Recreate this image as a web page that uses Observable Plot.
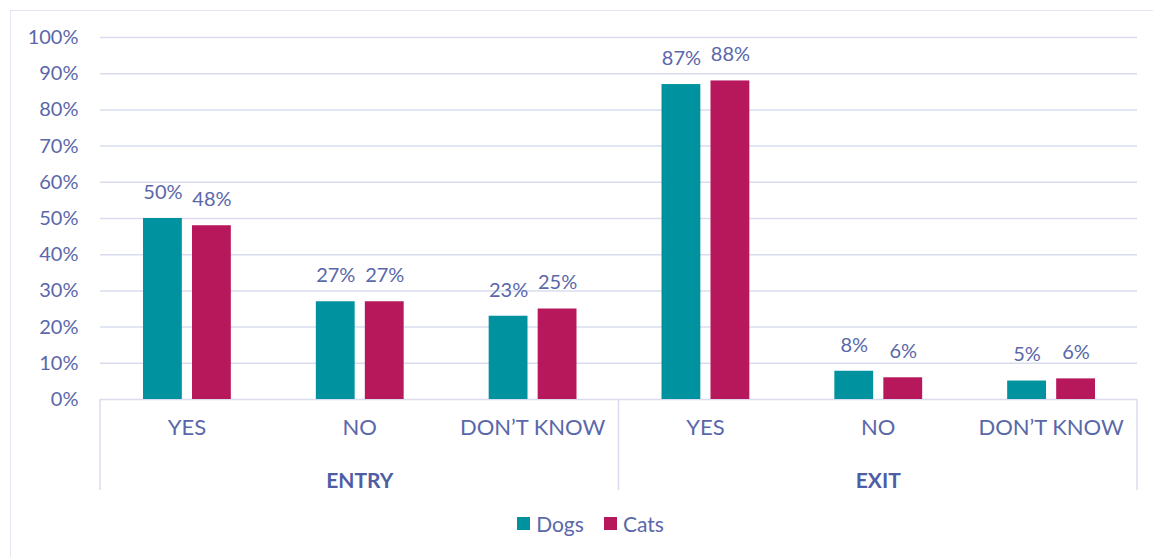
<!DOCTYPE html>
<html>
<head>
<meta charset="utf-8">
<script src="https://cdn.jsdelivr.net/npm/d3@7"></script>
<script src="https://cdn.jsdelivr.net/npm/@observablehq/plot@0.6"></script>
<style>
  html, body { margin: 0; padding: 0; background: #fff; overflow: hidden; }
  #wrap { position: relative; width: 1153px; height: 557px; }
  #frame { position: absolute; left: 10px; top: 10px; width: 1200px; height: 600px;
           border: 1.5px solid #e4e5f1; box-sizing: border-box; pointer-events: none; }
  #chart { position: absolute; left: 0; top: 0; }
  #legend { position: absolute; left: 0; top: 511px; width: 1153px; padding-left: 28px; box-sizing: border-box;
            display: flex; justify-content: center; align-items: center; gap: 20px;
            font-family: Lato, sans-serif; font-size: 21px; color: #5a67aa; }
  .item { display: flex; align-items: center; gap: 6px; }
  .sw { width: 13px; height: 13px; display: inline-block; }
</style>
</head>
<body>
<div id="wrap">
  <div id="frame"></div>
  <div id="chart"></div>
  <div id="legend"></div>
</div>
<script>
// ---- data ----
const groups = ["ENTRY", "ENTRY", "ENTRY", "EXIT", "EXIT", "EXIT"];
const answers = ["YES", "NO", "DON’T KNOW", "YES", "NO", "DON’T KNOW"];
const dogs = [50, 27, 23, 87, 7.8, 5.1];
const cats = [48, 27, 25, 88, 6.0, 5.7];
const seriesNames = ["Dogs", "Cats"];
const seriesColors = ["#00929f", "#b7185b"];
const yTicks = [0, 10, 20, 30, 40, 50, 60, 70, 80, 90, 100];
const groupNames = ["ENTRY", "EXIT"];

const rows = answers.map((a, i) => ({ key: groups[i] + "|" + a, group: groups[i], answer: a, dogs: dogs[i], cats: cats[i] }));
const keys = rows.map(d => d.key);
const groupRows = groupNames.map(g => ({ group: g, key: g + "|NO" }));
const pct = v => Math.round(v) + "%";
const textColor = "#5a67aa";

const chart = Plot.plot({
  width: 1153,
  height: 505,
  marginLeft: 100,
  marginRight: 16,
  marginTop: 37,
  marginBottom: 106,
  style: { fontFamily: "Lato, sans-serif", fontSize: "20px", color: textColor, background: "transparent", overflow: "visible" },
  x: { domain: keys, padding: 0, round: false, label: null },
  y: { domain: [0, 100], label: null },
  marks: [
    Plot.gridY(yTicks, { stroke: "#d9dcee", strokeOpacity: 1, strokeWidth: 1.5 }),
    Plot.barY(rows, { x: "key", y: "dogs", fill: seriesColors[0], insetLeft: 43, insetRight: 91 }),
    Plot.barY(rows, { x: "key", y: "cats", fill: seriesColors[1], insetLeft: 92, insetRight: 42 }),
    Plot.text(rows, { x: "key", y: "dogs", text: d => pct(d.dogs), dx: -24, dy: -26, fill: textColor, fontSize: 20 }),
    Plot.text(rows, { x: "key", y: "cats", text: d => pct(d.cats), dx: 25, dy: -26, fill: textColor, fontSize: 20 }),
    Plot.axisY(yTicks, { tickSize: 0, tickPadding: 22, tickFormat: d => d + "%", label: null, fontSize: 20, fill: textColor }),
    Plot.axisX({ tickSize: 0, tickPadding: 20, tickFormat: k => k.split("|")[1], label: null, fontSize: 22, fill: textColor }),
    Plot.text(groupRows, { x: "key", text: "group", frameAnchor: "bottom", dy: 88, fontWeight: "bold", fontSize: 21, fill: "#4f5da4" })
  ]
});
document.getElementById("chart").appendChild(chart);

// hierarchical axis separators, placed with the chart's own scales
const xs = chart.scale("x");
const ys = chart.scale("y");
const y0 = ys.apply(0);
const bounds = [xs.apply(keys[0]), xs.apply(keys[3]), xs.apply(keys[5]) + xs.bandwidth];
const svg = d3.select(chart);
svg.append("g").attr("stroke", "#d9dcee").attr("stroke-width", 1.5)
  .selectAll("line").data(bounds).join("line")
  .attr("x1", d => d).attr("x2", d => d)
  .attr("y1", y0).attr("y2", y0 + 91);

// legend
const legend = d3.select("#legend");
seriesNames.forEach((n, i) => {
  const it = legend.append("div").attr("class", "item");
  it.append("span").attr("class", "sw").style("background", seriesColors[i]);
  it.append("span").text(n);
});
</script>
</body>
</html>
